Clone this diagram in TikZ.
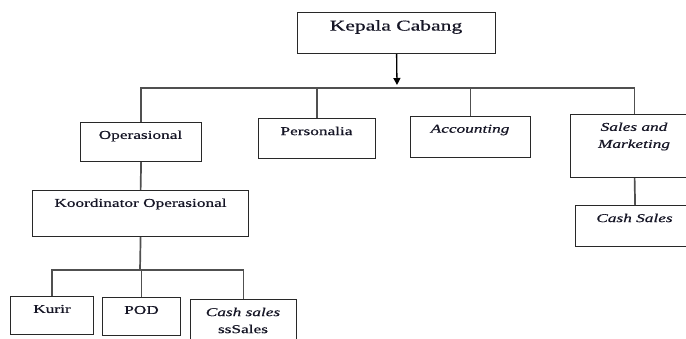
\documentclass[tikz,border=0pt]{standalone}
\usepackage{fontspec}
\setmainfont[FakeStretch=1.44,FakeBold=0.7]{Liberation Serif}
\usetikzlibrary{arrows.meta}
\definecolor{txt}{RGB}{22,22,38}
\definecolor{boxline}{RGB}{40,40,40}
\definecolor{conn}{RGB}{80,80,80}
\tikzset{
  orgbox/.style={draw=boxline, line width=1.2pt, inner sep=0pt, anchor=north west, rectangle},
  lbl/.style={text=txt, inner sep=0pt, align=center, font=\fontsize{12}{17}\selectfont},
  conline/.style={draw=conn, line width=1.7pt},
}
\begin{document}
\begin{tikzpicture}[x=1pt,y=-1pt]
\useasboundingbox (0,0) rectangle (686,338);
\clip (0,0) rectangle (686,338);
% boxes
\node[orgbox, minimum width=198pt, minimum height=41pt] (kc) at (297,12) {};
\node[orgbox, minimum width=121pt, minimum height=39pt] (op) at (80,122) {};
\node[orgbox, minimum width=117pt, minimum height=40pt] (pe) at (258,118) {};
\node[orgbox, minimum width=120pt, minimum height=41pt] (ac) at (410,116) {};
\node[orgbox, minimum width=128pt, minimum height=63pt] (sm) at (570,114) {};
\node[orgbox, minimum width=119pt, minimum height=41pt] (cs) at (575,205) {};
\node[orgbox, minimum width=216pt, minimum height=46pt] (ko) at (32,190) {};
\node[orgbox, minimum width=83pt, minimum height=38pt] (ku) at (10,296) {};
\node[orgbox, minimum width=78pt, minimum height=38pt] (po) at (102,297) {};
\node[orgbox, minimum width=106pt, minimum height=50pt] (cl) at (190,299) {};
% labels
\node[lbl, font=\fontsize{15}{18}\selectfont] (tkc) at (396,27) {Kepala Cabang};
\node[lbl] (top) at (140.5,136) {Operasional};
\node[lbl] (tpe) at (316.5,131) {Personalia};
\node[lbl] (tac) at (470,130) {\itshape Accounting};
\node[lbl] (tsm) at (634,136.5) {\itshape Sales and\\\itshape Marketing};
\node[lbl] (tcs) at (634.5,218) {\itshape Cash Sales};
\node[lbl] (tko) at (140.5,204) {Koordinator Operasional};
\node[lbl] (tku) at (52,309) {Kurir};
\node[lbl] (tpo) at (141.5,310) {POD};
\node[lbl] (tcl) at (243,320.5) {\itshape Cash sales\\ssSales};
% connectors
\coordinate (bus) at (397,88);
\coordinate (tip) at (397,85);
\coordinate (bus2) at (140,270);
\draw[draw=black, line width=1.3pt, -{Triangle[width=7pt,length=7pt]}] (kc.south) -- (tip);
\draw[conline] (op.north) -- (op.north |- bus) -- (sm.north |- bus) -- (sm.north);
\draw[conline] (pe.north) -- (pe.north |- bus);
\draw[conline] (ac.north) -- (ac.north |- bus);
\draw[conline] (sm.south) -- (cs.north);
\draw[conline] (op.south) -- (ko.north);
\draw[conline] (ko.south) -- (bus2);
\draw[conline] (ku.north) -- (ku.north |- bus2) -- (cl.north |- bus2) -- (cl.north);
\draw[conline] (po.north) -- (po.north |- bus2);
\end{tikzpicture}
\end{document}
